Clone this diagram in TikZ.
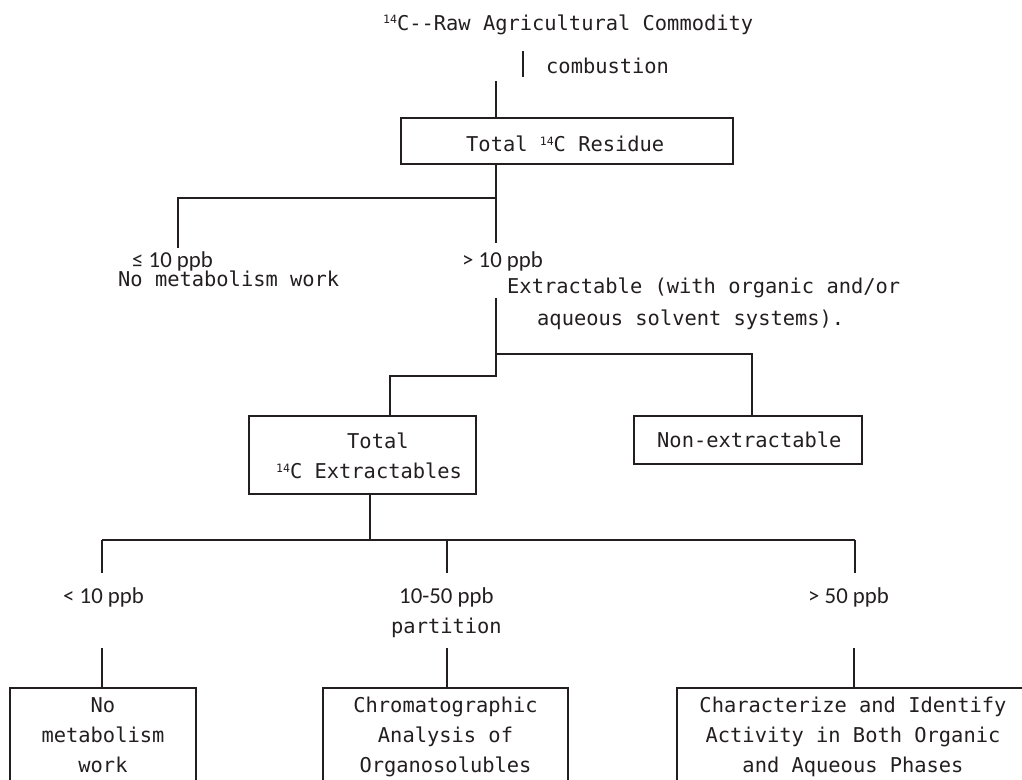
\documentclass[tikz,border=0pt]{standalone}
\usepackage{fontspec}
\setmonofont{DejaVu Sans Mono}
\newfontfamily\sansf{Carlito}
\definecolor{ink}{HTML}{231F20}
\newcommand\isot{\raisebox{6pt}{\fontsize{11.5}{11.5}\selectfont 14}}
\tikzset{
  mono/.style={font=\ttfamily\fontsize{20.4}{30}\selectfont, text=ink, inner sep=0pt, anchor=base west},
  monoc/.style={font=\ttfamily\fontsize{20.4}{30}\selectfont, text=ink, inner sep=0pt, anchor=base},
  sans/.style={font=\sansf\fontsize{22.8}{27}\selectfont, text=ink, inner sep=0pt, anchor=base west},
  box/.style={draw=ink, line width=1.8pt, inner sep=0pt, rectangle},
  thickline/.style={draw=ink, line width=2.9pt},
  thinline/.style={draw=ink, line width=1.7pt},
}
\begin{document}
\begin{tikzpicture}[x=1pt,y=-1pt]
\useasboundingbox (0,0) rectangle (1022,779);
\clip (0,0) rectangle (1022,779);
\fill[white] (0,0) rectangle (1022,779);

% boxes
\node[box, minimum width=332pt, minimum height=46pt] (res) at (567,141) {};
\node[box, minimum width=227pt, minimum height=78pt] (ext) at (362.5,455) {};
\node[box, minimum width=228pt, minimum height=48pt] (nonext) at (748,440) {};
\node[box, minimum width=186pt, minimum height=96pt] (nomet) at (103,736) {};
\node[box, minimum width=245pt, minimum height=96pt] (chrom) at (445.5,736) {};
\node[box, minimum width=354pt, minimum height=96pt] (char) at (854,736) {};

% texts
\node[mono] (title) at (383,30) {\isot C--Raw Agricultural Commodity};
\node[mono] (comb) at (546,73) {combustion};
\node[mono] (resT) at (466,151) {Total \isot C Residue};
\node[sans] (le10) at (132,267) {≤ 10 ppb};
\node[mono] (nowork) at (118,286) {No metabolism work};
\node[sans] (gt10) at (462,267) {> 10 ppb};
\node[mono] (extr1) at (507,293) {Extractable (with organic and/or};
\node[mono] (extr2) at (537,325) {aqueous solvent systems).};
\node[mono] (extT1) at (347,448) {Total};
\node[mono] (extT2) at (276,478) {\isot C Extractables};
\node[mono] (nonT) at (657,447) {Non-extractable};
\node[sans] (lt10) at (63,603) {< 10 ppb};
\node[sans] (mid) at (399,603) {10-50 ppb};
\node[mono] (part) at (391,633) {partition};
\node[sans] (gt50) at (808,603) {> 50 ppb};
\node[monoc] (nomet1) at (103,712) {No};
\node[monoc] (nomet2) at (103,742) {metabolism};
\node[monoc] (nomet3) at (103,772) {work};
\node[monoc] (chrom1) at (445.5,712) {Chromatographic};
\node[monoc] (chrom2) at (445.5,742) {Analysis of};
\node[monoc] (chrom3) at (445.5,772) {Organosolubles};
\node[monoc] (char1) at (853,712) {Characterize and Identify};
\node[monoc] (char2) at (853,742) {Activity in Both Organic};
\node[monoc] (char3) at (853,772) {and Aqueous Phases};

% coordinates
\coordinate (a1) at (523,51);
\coordinate (a2) at (523,77);
\coordinate (t1) at (496,81);
\coordinate (j1) at (496,198);
\coordinate (l1) at (178,248);
\coordinate (g1) at (496,243);
\coordinate (k0) at (496,298);
\coordinate (k1) at (496,354);
\coordinate (k2) at (496,376);
\coordinate (e1) at (390,376);
\coordinate (n1) at (752,354);
\coordinate (m1) at (370,540);
\coordinate (h1) at (102,540);
\coordinate (h2) at (447,540);
\coordinate (h3) at (855,540);
\coordinate (v1) at (102,573);
\coordinate (v2) at (447,573);
\coordinate (v3) at (855,573);
\coordinate (w1) at (102,648);
\coordinate (w2) at (447,648);
\coordinate (w3) at (854,648);

% thick connectors
\draw[thickline] (a1) -- (a2);
\draw[thickline] (t1) -- (t1 |- res.north);
\draw[thickline] (res.south -| j1) -- (j1) -| (l1);
\draw[thickline] (j1) -- (g1);
\draw[thickline] (k0) -- (k2) -- (e1) -- (e1 |- ext.north);
\draw[thickline] (k1) -- (n1) -- (n1 |- nonext.north);
\draw[thickline] (ext.south -| m1) -- (m1);

% thin connectors
\draw[thinline] (h1) -- (h3);
\draw[thinline] (h1) -- (v1);
\draw[thinline] (h2) -- (v2);
\draw[thinline] (h3) -- (v3);
\draw[thinline] (w1) -- (w1 |- nomet.north);
\draw[thinline] (w2) -- (w2 |- chrom.north);
\draw[thinline] (w3) -- (w3 |- char.north);
\end{tikzpicture}
\end{document}
